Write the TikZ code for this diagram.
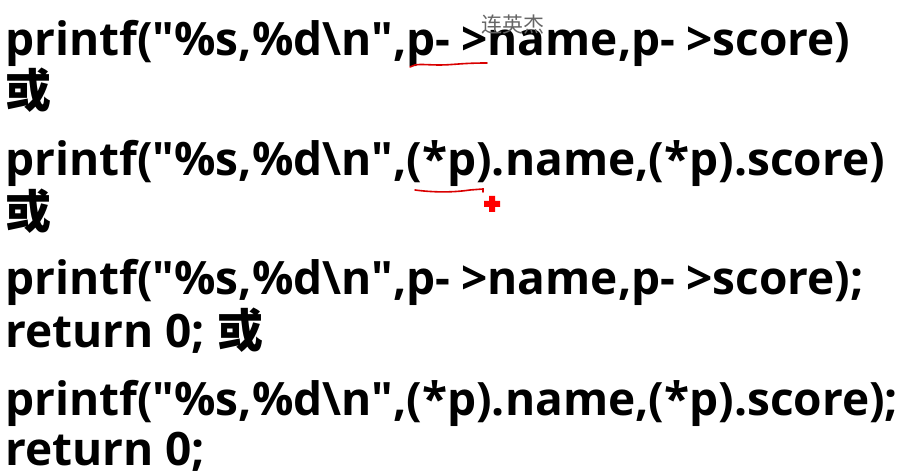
\documentclass[tikz,border=0pt]{standalone}
\usepackage{fontspec}
\setmainfont{Open Sans}[Ligatures=TeXOff]
\newfontfamily\cjk{Noto Sans CJK SC}
\newcommand\arw{-\kern11pt>}
\begin{document}
\begin{tikzpicture}[x=1pt,y=1pt]
    \tikzstyle{line}=[anchor=base west, inner sep=0pt, font=\fontsize{46}{46}\selectfont\bfseries]
    \tikzstyle{penline}=[red!85!black, line width=1.6pt, line cap=round]
    \useasboundingbox (0,0) rectangle (908,473);
    \node[line] (l1) at (5,417) {printf("\%s,\%d\textbackslash{}n",p\arw name,p\arw score)};
    \node[line] (l2) at (5,365) {\cjk 或};
    \node[line] (l3) at (5,297) {printf("\%s,\%d\textbackslash{}n",(*p).name,(*p).score)};
    \node[line] (l4) at (5,244) {\cjk 或};
    \node[line] (l5) at (5,178) {printf("\%s,\%d\textbackslash{}n",p\arw name,p\arw score);};
    \node[line] (l6) at (5,125) {return 0; {\cjk 或}};
    \node[line] (l7) at (5,57) {printf("\%s,\%d\textbackslash{}n",(*p).name,(*p).score);};
    \node[line] (l8) at (5,7) {return 0;};
    % note and pen marks
    \node[text=black!60, font=\cjk\fontsize{21}{21}\selectfont] (who) at (513,448) {连英杰};
    \draw[penline] (410,406) .. controls (416,410) and (424,408) .. (440,408)
        .. controls (452,408) and (462,410) .. (487,410);
    \draw[penline] (415,283) .. controls (430,281) and (450,280) .. (470,283) -- (483,284) -- (483,281);
    \fill[red] (484,266) rectangle (500,272) (489,261) rectangle (495,277);
\end{tikzpicture}
\end{document}
